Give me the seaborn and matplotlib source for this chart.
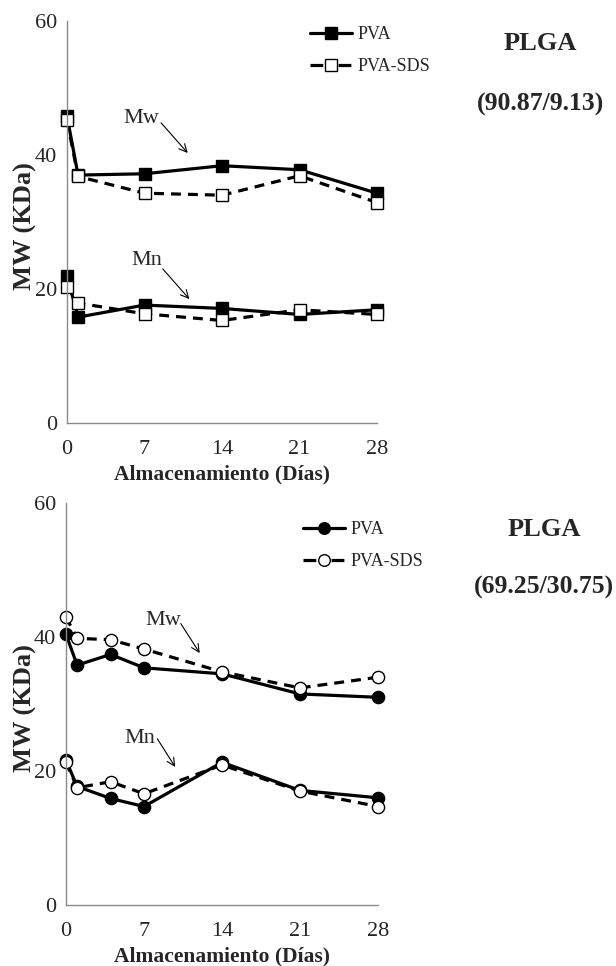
import matplotlib
matplotlib.use("Agg")
import matplotlib.pyplot as plt
import seaborn as sns
import numpy as np
from matplotlib.lines import Line2D

# ---------------- data ----------------
days_top = [0, 1, 7, 14, 21, 28]
top_mw_pva = [45.8, 37.0, 37.2, 38.4, 37.8, 34.3]
top_mw_sds = [45.2, 36.8, 34.3, 34.0, 36.9, 32.9]
top_mn_pva = [22.0, 15.8, 17.6, 17.1, 16.2, 16.9]
top_mn_sds = [20.3, 17.9, 16.3, 15.3, 16.9, 16.2]

days_bot = [0, 1, 4, 7, 14, 21, 28]
bot_mw_pva = [40.4, 35.8, 37.4, 35.4, 34.5, 31.5, 31.0]
bot_mw_sds = [43.0, 39.8, 39.6, 38.2, 34.8, 32.4, 34.0]
bot_mn_pva = [21.6, 17.7, 15.9, 14.7, 21.3, 17.1, 16.0]
bot_mn_sds = [21.3, 17.5, 18.4, 16.6, 20.9, 17.0, 14.7]

legend_labels = ["PVA", "PVA-SDS"]
x_ticklabels = ["0", "7", "14", "21", "28"]
y_ticklabels = ["0", "20", "40", "60"]
xlabel = "Almacenamiento (Días)"
ylabel = "MW (KDa)"
panel_titles = [("PLGA", "(90.87/9.13)"), ("PLGA", "(69.25/30.75)")]

# ---------------- style ----------------
sns.set_theme(style="white")
plt.rcParams["font.family"] = ["Liberation Serif", "DejaVu Serif"]

W, H = 616, 966
fig = plt.figure(figsize=(W / 100, H / 100), dpi=100)

def px_axes(l, t, r, b):
    return fig.add_axes([l / W, 1 - b / H, (r - l) / W, (b - t) / H])

ax_top = px_axes(67, 21, 377, 423)
ax_bot = px_axes(66, 503, 378, 905)

SPINE = "#8a8a8a"
MS = 8.8
LW = 2.3
DASH = (0, (3.1, 2.2))

def draw_panel(ax, days, mw_pva, mw_sds, mn_pva, mn_sds, marker):
    for vals, filled in [(mw_pva, True), (mn_pva, True), (mw_sds, False), (mn_sds, False)]:
        kw = dict(color="black", lw=LW, marker=marker, markersize=MS,
                  markeredgecolor="black", markeredgewidth=1.0,
                  markerfacecolor="black" if filled else "white",
                  clip_on=False, estimator=None, legend=False)
        if not filled:
            kw["linestyle"] = DASH
        sns.lineplot(x=days, y=vals, ax=ax, **kw)
    ax.set_xlim(0, 28)
    ax.set_ylim(0, 60)
    xt = np.arange(0, 28.01, 3.5)
    ax.set_xticks(xt)
    ax.set_xticklabels([x_ticklabels[i // 2] if i % 2 == 0 else "" for i in range(len(xt))])
    yt = np.arange(0, 60.01, 10)
    ax.set_yticks(yt)
    ax.set_yticklabels([y_ticklabels[i // 2] if i % 2 == 0 else "" for i in range(len(yt))])
    for s in ["top", "right"]:
        ax.spines[s].set_visible(False)
    for s in ["left", "bottom"]:
        ax.spines[s].set_color(SPINE)
        ax.spines[s].set_linewidth(1.0)
    ax.tick_params(axis="both", which="major", direction="out", length=4,
                   width=0.9, color=SPINE, labelsize=16)
    ax.tick_params(axis="x", pad=8)
    ax.tick_params(axis="y", pad=3)
    ax.set_xlabel(xlabel, fontsize=15.5, fontweight="bold", labelpad=4)
    ax.set_ylabel(ylabel, fontsize=19, fontweight="bold")
    ax.set_facecolor("white")
    ax.grid(False)

draw_panel(ax_top, days_top, top_mw_pva, top_mw_sds, top_mn_pva, top_mn_sds, "s")
draw_panel(ax_bot, days_bot, bot_mw_pva, bot_mw_sds, bot_mn_pva, bot_mn_sds, "o")

# y labels: right edge of rotated text near x ~ 37 px in the figure
for ax, left in [(ax_top, 67), (ax_bot, 66)]:
    ax.yaxis.set_label_coords(-(left - 37) / (ax.get_position().width * W), 0.49)

# annotations
arrow = dict(arrowstyle="->", lw=0.8, color="black", shrinkA=0, shrinkB=0, mutation_scale=14)
ax_top.text(6.75, 45.4, "Mw", fontsize=16, ha="center", va="center")
ax_top.annotate("", xy=(10.9, 40.3), xytext=(8.5, 44.8), arrowprops=arrow)
ax_top.text(7.2, 24.2, "Mn", fontsize=16, ha="center", va="center")
ax_top.annotate("", xy=(11.05, 18.5), xytext=(8.65, 23.0), arrowprops=arrow)

ax_bot.text(8.7, 42.5, "Mw", fontsize=16, ha="center", va="center")
ax_bot.annotate("", xy=(12.0, 37.6), xytext=(10.3, 42.0), arrowprops=arrow)
ax_bot.text(6.65, 24.8, "Mn", fontsize=16, ha="center", va="center")
ax_bot.annotate("", xy=(9.8, 20.6), xytext=(8.2, 24.8), arrowprops=arrow)

# legends (proxy handles styled like the series)
def proxies(marker):
    h1 = Line2D([], [], color="black", lw=LW, marker=marker, markersize=MS * 0.95,
                markerfacecolor="black", markeredgecolor="black")
    h2 = Line2D([], [], color="black", lw=LW, linestyle=(0, (4.0, 4.8)), marker=marker,
                markersize=MS * 0.95, markerfacecolor="white", markeredgecolor="black")
    return [h1, h2]

for marker, anchor in [("s", (310 / W, 1 - 26 / H)), ("o", (303 / W, 1 - 521 / H))]:
    fig.legend(proxies(marker), legend_labels, loc="upper left", bbox_to_anchor=anchor,
               frameon=False, fontsize=13, handlelength=2.3, handletextpad=0.35,
               labelspacing=0.85, borderpad=0, borderaxespad=0)

# panel titles
for (t1, t2), (cx, y1, y2) in zip(panel_titles, [(540, 43, 104), (544, 530, 587)]):
    fig.text(cx / W, 1 - y1 / H, t1, fontsize=19, fontweight="bold", ha="center", va="center")
    fig.text(cx / W, 1 - y2 / H, t2, fontsize=18.5, fontweight="bold", ha="center", va="center")

fig.savefig("out.png", dpi=100, facecolor="white")
